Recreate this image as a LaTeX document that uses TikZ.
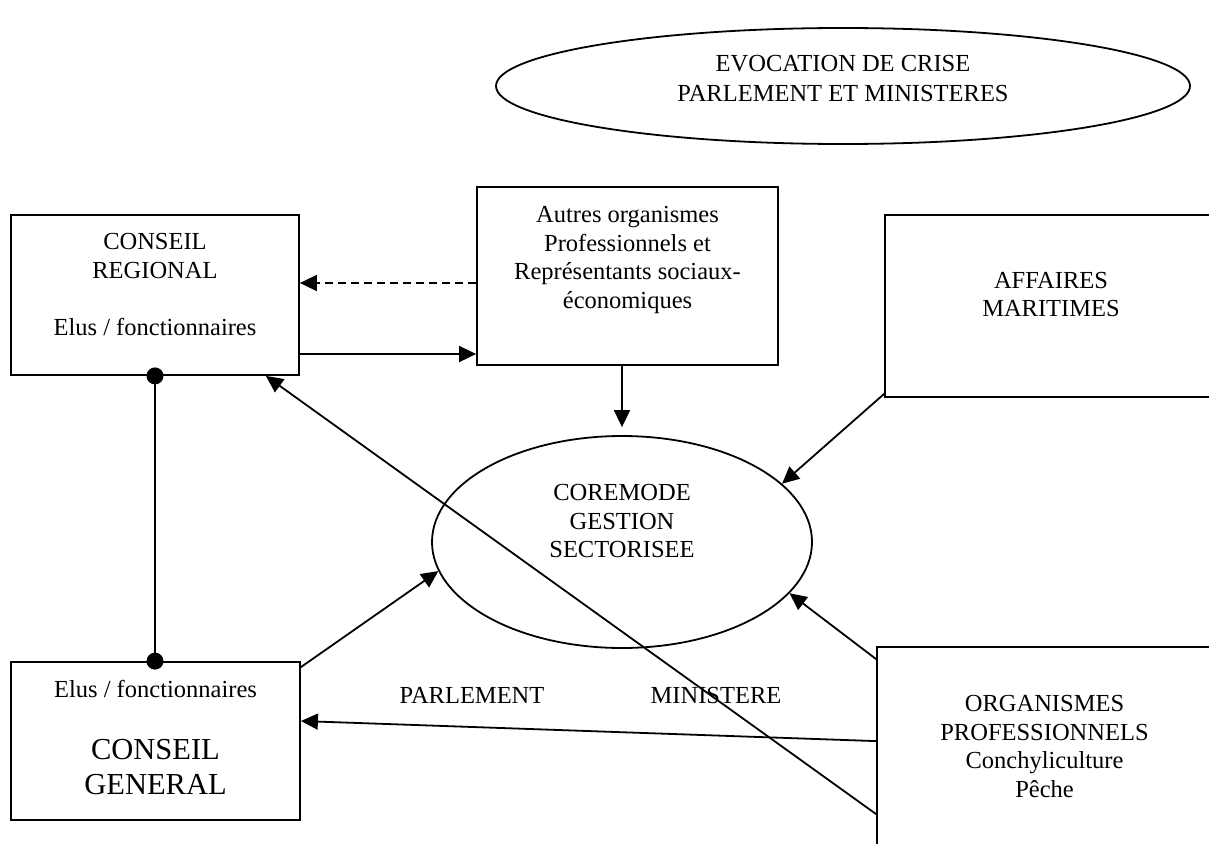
\documentclass[tikz,border=0pt]{standalone}
\usepackage{fontspec}
\setmainfont{Liberation Serif}
\usetikzlibrary{arrows.meta,shapes.geometric}
\begin{document}
\begin{tikzpicture}[x=1pt,y=-1pt,
  lw/.style={line width=1.8pt},
  boxshape/.style={draw,lw,rectangle,inner sep=0pt},
  ovalshape/.style={draw,lw,ellipse,inner sep=0pt},
  txt/.style={inner sep=0pt,align=center,anchor=north,font=\fontsize{24.5}{28.5}\selectfont},
  bigtxt/.style={txt,font=\fontsize{30.5}{35}\selectfont},
  arr/.style={lw,-{Triangle[length=17pt,width=16pt]}},
  link/.style={lw},
  dashlink/.style={dash pattern=on 8pt off 5pt}
]
\useasboundingbox (0,0) rectangle (1209,843);
\clip (0,0) rectangle (1209,843);

% ---- shapes ----
\node[ovalshape,minimum width=694pt,minimum height=116pt] (crise) at (843,86) {};
\node[txt,font=\fontsize{24.5}{30}\selectfont] (crisetxt) at (843,55.5)
  {EVOCATION DE CRISE\\PARLEMENT ET MINISTERES};

\node[boxshape,minimum width=288pt,minimum height=160pt] (cr) at (155,295) {};
\node[txt] (crtxt) at (155,233.5) {CONSEIL\\REGIONAL\\[28.5pt]Elus / fonctionnaires};

\node[boxshape,minimum width=301pt,minimum height=178pt] (autres) at (627.5,276) {};
\node[txt] (autrestxt) at (627.5,206.5)
  {Autres organismes\\Professionnels et\\Représentants sociaux-\\économiques};

\node[boxshape,minimum width=332pt,minimum height=182pt] (affaires) at (1051,306) {};
\node[txt] (affairestxt) at (1051,271.8) {AFFAIRES\\MARITIMES};

\node[ovalshape,minimum width=380pt,minimum height=212pt] (coremode) at (622,542) {};
\node[txt] (coremodetxt) at (622,484.5) {COREMODE\\GESTION\\SECTORISEE};

\node[boxshape,minimum width=289pt,minimum height=158pt] (cg) at (155.5,741) {};
\node[txt] (cgelus) at (155.5,680.3) {Elus / fonctionnaires};
\node[bigtxt] (cgname) at (155.5,738.8) {CONSEIL\\GENERAL};

\node[boxshape,minimum width=335pt,minimum height=240pt] (orgs) at (1044.5,767) {};
\node[txt] (orgstxt) at (1044.5,695.5)
  {ORGANISMES\\PROFESSIONNELS\\Conchyliculture\\Pêche};

\node[txt] (parl) at (472,687.5) {PARLEMENT};
\node[txt] (mini) at (716,687.5) {MINISTERE};

% ---- connector end points on box edges ----
\coordinate (dashA) at ([yshift=-7pt]autres.west);
\coordinate (solidA) at ([yshift=-59pt]cr.east);
\coordinate (affOut) at ([yshift=4pt]affaires.south west);
\coordinate (orgA) at ([yshift=-13pt]orgs.north west);
\coordinate (orgB) at ([yshift=-95pt]orgs.north west);
\coordinate (orgC) at ([yshift=-168pt]orgs.north west);
\coordinate (cgIn) at ([yshift=20pt]cg.east);
\coordinate (crIn) at ([xshift=-34pt]cr.south east);
\coordinate (cgOut) at ([yshift=-6pt]cg.north east);
\coordinate (coreTop) at ([yshift=8pt]coremode.north);

% ---- connectors ----
\draw[arr,dashlink] (dashA) -- (dashA -| cr.east);
\draw[arr] (solidA) -- (solidA -| autres.west);
\draw[arr] (autres.south -| coreTop) -- (coreTop);
\draw[arr] (affOut) -- (coremode.20);
\draw[arr] (orgA) -- (coremode.-17);
\draw[arr] (orgB) -- (cgIn);
\draw[arr] (orgC) -- (crIn);
\draw[arr] (cgOut) -- (coremode.189);

\draw[link] (cr.south) -- (cr.south |- cg.north);
\fill (cr.south) circle (8.5pt);
\fill (cr.south |- cg.north) circle (8.5pt);
\end{tikzpicture}
\end{document}
